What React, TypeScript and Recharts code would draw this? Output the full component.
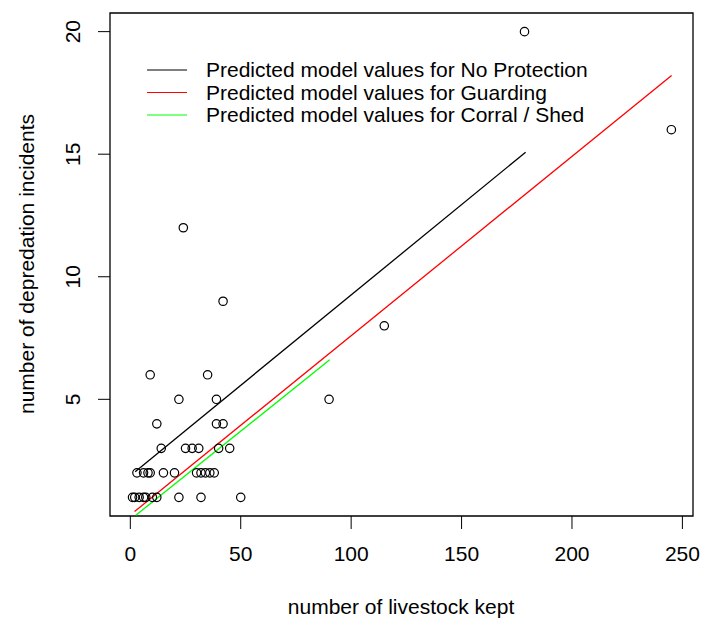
import { ComposedChart, Scatter, XAxis, YAxis, ReferenceArea } from "recharts";

// observed points: livestock kept vs depredation incidents
const livestock = [
  178.5, 245, 24, 42, 115,
  9, 35,
  22, 39, 90,
  12, 39, 42,
  14, 25, 28, 31, 40, 45,
  3, 6, 8, 9, 15, 20, 30, 32, 34, 36, 38,
  1, 2, 4, 6, 7, 10, 12, 22, 32, 50,
];
const incidents = [
  20, 16, 12, 9, 8,
  6, 6,
  5, 5, 5,
  4, 4, 4,
  3, 3, 3, 3, 3, 3,
  2, 2, 2, 2, 2, 2, 2, 2, 2, 2, 2,
  1, 1, 1, 1, 1, 1, 1, 1, 1, 1,
];

// predicted model lines (start / end)
const noProtX = [2.2, 179];
const noProtY = [2.05, 15.08];
const guardX = [1.9, 245.1];
const guardY = [0.42, 18.21];
const corralX = [2.5, 90.3];
const corralY = [0.27, 6.61];

const xTicks = [0, 50, 100, 150, 200, 250];
const yTicks = [5, 10, 15, 20];
const seriesNames = [
  "Predicted model values for No Protection",
  "Predicted model values for Guarding",
  "Predicted model values for Corral / Shed",
];
const seriesColors = ["#000000", "#ff0000", "#00ff00"];

const X_DOMAIN: [number, number] = [-9.2, 254.8];
const Y_DOMAIN: [number, number] = [0.24, 20.76];
const FONT = "'Liberation Sans', Arial, sans-serif";

const points = livestock.map((x, i) => ({ x, y: incidents[i] }));
const toLine = (xs: number[], ys: number[]) => xs.map((x, i) => ({ x, y: ys[i] }));
const lines = [toLine(noProtX, noProtY), toLine(guardX, guardY), toLine(corralX, corralY)];

const XTick = (props: any) => (
  <text x={props.x} y={561} textAnchor="middle" fontSize={21} fontFamily={FONT} fill="#000">
    {props.payload.value}
  </text>
);

const YTick = (props: any) => (
  <text
    x={73}
    y={props.y}
    dy="0.35em"
    textAnchor="middle"
    fontSize={21}
    fontFamily={FONT}
    fill="#000"
    transform={`rotate(-90, 73, ${props.y})`}
  >
    {props.payload.value}
  </text>
);

const Circle = (props: any) => (
  <circle cx={props.cx} cy={props.cy} r={4.2} fill="none" stroke="#000" strokeWidth={1.2} />
);

const App = () => {
  return (
    <div style={{ position: "absolute", left: 0, top: 0, background: "#fff" }}>
      <ComposedChart
        width={701}
        height={619}
        margin={{ top: 13, right: 8, bottom: 53, left: 50 }}
        style={{ fontFamily: FONT }}
      >
        <XAxis
          type="number"
          dataKey="x"
          domain={X_DOMAIN}
          allowDataOverflow
          ticks={xTicks}
          height={50}
          axisLine={false}
          tickSize={13}
          tickLine={{ stroke: "#000" }}
          tick={<XTick />}
        />
        <YAxis
          type="number"
          dataKey="y"
          domain={Y_DOMAIN}
          allowDataOverflow
          ticks={yTicks}
          width={60}
          axisLine={false}
          tickSize={12}
          tickLine={{ stroke: "#000" }}
          tick={<YTick />}
        />
        <ReferenceArea
          x1={X_DOMAIN[0]}
          x2={X_DOMAIN[1]}
          y1={Y_DOMAIN[0]}
          y2={Y_DOMAIN[1]}
          fill="none"
          stroke="#000"
          strokeWidth={1.3}
        />
        {lines.map((d, i) => (
          <Scatter
            key={seriesNames[i]}
            data={d}
            line={{ stroke: seriesColors[i], strokeWidth: 1.3 }}
            shape={() => <g />}
            isAnimationActive={false}
          />
        ))}
        <Scatter data={points} shape={<Circle />} isAnimationActive={false} />
        {seriesNames.map((name, i) => (
          <g key={name}>
            <line x1={147} x2={187} y1={70 + i * 22.5} y2={70 + i * 22.5} stroke={seriesColors[i]} strokeWidth={1.2} />
            <text x={206} y={70 + i * 22.5} dy="0.35em" fontSize={21} fontFamily={FONT} fill="#000">
              {name}
            </text>
          </g>
        ))}
        <text x={401} y={607} dy="0.35em" textAnchor="middle" fontSize={21} fontFamily={FONT} fill="#000">
          number of livestock kept
        </text>
        <text
          x={27}
          y={264}
          dy="0.35em"
          textAnchor="middle"
          fontSize={21}
          fontFamily={FONT}
          fill="#000"
          transform="rotate(-90, 27, 264)"
        >
          number of depredation incidents
        </text>
      </ComposedChart>
    </div>
  );
};

export default App;
